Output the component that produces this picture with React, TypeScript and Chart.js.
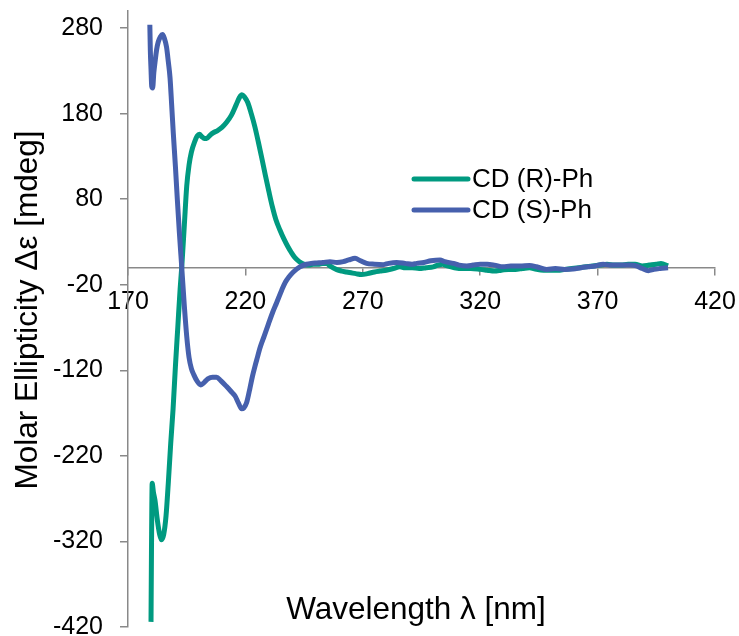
import React, { useEffect, useRef } from 'react';
import { Chart, registerables } from 'chart.js';

Chart.register(...registerables);

// ---- data ----
const seriesLabels = ['CD (R)-Ph', 'CD (S)-Ph'];
const seriesColors = ['#009A80', '#4660AD'];

const rWavelength = [
  179.8, 180.0, 180.3, 180.8, 181.5, 182.5, 183.5, 184.3, 185.2, 186.2, 187.2, 188.2, 189.2, 190.2,
  191.2, 192.2, 193.0, 194.0, 195.0, 196.0, 197.0, 198.5, 199.5, 200.4, 201.5, 202.5, 203.5, 205.0,
  206.5, 208.0, 210.0, 212.0, 214.0, 216.0, 217.5, 218.5, 219.5, 221.0, 222.5, 224.0, 225.5, 227.0,
  228.5, 230.0, 231.5, 233.0, 234.7, 236.5, 238.0, 239.5, 241.0, 243.0, 245.4, 247.0, 249.0, 251.0,
  253.0, 254.6, 256.0, 258.9, 261.0, 263.0, 265.0, 267.0, 269.5, 272.0, 275.0, 277.3, 280.0, 283.0,
  285.8, 288.0, 291.0, 294.0, 297.0, 300.0, 302.0, 304.0, 306.0, 309.0, 312.7, 316.0, 320.0, 323.0,
  326.0, 329.0, 332.0, 335.0, 338.0, 341.0, 344.0, 347.0, 350.0, 353.0, 356.0, 359.0, 362.0, 365.0,
  368.0, 371.0, 374.0, 377.0, 380.0, 383.0, 386.0, 389.0, 392.0, 395.0, 397.0, 400.0,
];
const rValues = [
  -414, -330, -252, -262, -272, -295, -312, -318, -312, -290, -250, -205, -165, -115,
  -70, -25, 5, 50, 95, 120, 135, 148, 154, 156, 153, 151, 151, 155,
  158, 160, 164, 170, 178, 190, 199, 202, 200, 193, 180, 165, 147, 128,
  108, 89, 71, 56, 44, 33, 25, 18, 12, 7, 3.5, 3, 4, 4,
  5, 5, 2, -2.3, -4, -5, -6, -7, -8, -7, -5, -4, -3, -1,
  1, 0, 0, -1, 0, 1, 3, 4, 2, 0, -1, -1, -2, -3,
  -4, -3, -2, -2, -1, 0, -2, -3, -3, -3, -2, -1, 0, 1,
  2, 3, 4, 3, 3, 4, 4, 2, 3, 4, 5, 2,
];

const sWavelength = [
  179.3, 179.5, 179.8, 180.1, 180.5, 181.0, 181.5, 182.2, 182.9, 183.8, 184.7, 185.5, 186.4, 187.2,
  187.9, 188.6, 189.3, 190.2, 191.0, 191.9, 192.9, 194.0, 195.0, 196.0, 197.0, 198.0, 199.5, 201.0,
  202.5, 204.0, 206.0, 207.7, 209.5, 212.0, 214.0, 215.6, 217.0, 218.4, 219.3, 220.5, 222.0, 223.0,
  224.1, 225.2, 226.2, 228.0, 229.8, 231.5, 233.3, 235.5, 237.0, 238.5, 240.4, 243.2, 246.0, 248.0,
  250.4, 253.0, 256.0, 259.0, 261.7, 264.0, 266.7, 269.0, 271.6, 275.0, 278.7, 281.0, 284.4, 288.0,
  291.0, 293.0, 296.0, 299.0, 302.9, 305.0, 308.6, 311.0, 314.3, 317.0, 320.0, 323.0, 326.0, 329.7,
  333.0, 337.0, 341.0, 344.0, 348.3, 352.0, 356.0, 359.6, 363.0, 366.0, 369.0, 372.4, 375.0, 378.0,
  381.0, 384.0, 386.5, 389.0, 391.6, 394.0, 396.6, 400.0,
];
const sValues = [
  284, 255, 232, 212, 210, 228, 240, 255, 264, 270, 272.5, 268, 258, 240,
  222, 190, 157, 118, 80, 40, 0, -45, -80, -105, -118, -125, -133, -137,
  -134, -130, -128, -128, -132, -139, -145, -150, -158, -165, -164, -158, -140, -127,
  -115, -104, -94, -80, -66, -53, -41, -26, -17, -11, -5, 1, 4, 5,
  5.5, 6, 7, 6, 7, 9, 11, 8, 5, 4, 3.5, 5, 6, 5,
  4, 5, 6, 8, 9, 7, 5, 3, 2, 3, 4, 4, 3, 1,
  2, 2, 2.5, 1, -2, -1, -2, -1.5, 0, 1, 2, 4, 3, 3,
  3, 3, 2, -1, -3.5, -2, -1, 0,
];

const xTickValues = [170, 220, 270, 320, 370, 420];
const yTickValues = [-420, -320, -220, -120, -20, 80, 180, 280];
const xTitle = 'Wavelength λ [nm]';
const yTitle = 'Molar Ellipticity Δε [mdeg]';

const FONT = '"Liberation Sans", Arial, sans-serif';
const AXIS_COLOR = '#898989';

const toPoints = (xs: number[], ys: number[]) => xs.map((x, i) => ({ x, y: ys[i] }));

const overlayPlugin = {
  id: 'overlay',
  afterDraw(chart: any) {
    const { ctx } = chart;
    ctx.save();
    ctx.fillStyle = '#000';
    // axis titles
    ctx.font = `31.5px ${FONT}`;
    ctx.textAlign = 'center';
    ctx.textBaseline = 'alphabetic';
    ctx.fillText(xTitle, 416, 619);
    ctx.save();
    ctx.translate(37, 310);
    ctx.rotate(-Math.PI / 2);
    ctx.fillText(yTitle, 0, 0);
    ctx.restore();
    // legend
    const datasets = chart.data.datasets;
    const lx = 414;
    const ly = 179;
    const rowH = 31;
    ctx.font = `26px ${FONT}`;
    ctx.textAlign = 'left';
    ctx.textBaseline = 'middle';
    datasets.forEach((ds: any, i: number) => {
      const y = ly + i * rowH;
      ctx.strokeStyle = ds.borderColor;
      ctx.lineWidth = 5;
      ctx.lineCap = 'round';
      ctx.beginPath();
      ctx.moveTo(lx, y);
      ctx.lineTo(lx + 54, y);
      ctx.stroke();
      ctx.fillStyle = '#000';
      ctx.fillText(ds.label, lx + 58, y + 1);
    });
    ctx.restore();
  },
};

export default function App() {
  const canvasRef = useRef<HTMLCanvasElement | null>(null);

  useEffect(() => {
    const canvas = canvasRef.current;
    if (!canvas) return;
    const chart = new Chart(canvas, {
      type: 'line',
      data: {
        datasets: [
          {
            label: seriesLabels[0],
            data: toPoints(rWavelength, rValues),
            borderColor: seriesColors[0],
            backgroundColor: seriesColors[0],
            borderWidth: 5,
            pointRadius: 0,
            cubicInterpolationMode: 'monotone',
            order: 1,
          },
          {
            label: seriesLabels[1],
            data: toPoints(sWavelength, sValues),
            borderColor: seriesColors[1],
            backgroundColor: seriesColors[1],
            borderWidth: 5,
            pointRadius: 0,
            cubicInterpolationMode: 'monotone',
            order: 0,
          },
        ],
      },
      options: {
        animation: false,
        responsive: false,
        layout: { padding: { left: 0, top: 11, right: 24, bottom: 9 } },
        plugins: {
          legend: { display: false },
          tooltip: { enabled: false },
        },
        scales: {
          x: {
            type: 'linear',
            position: { y: 0 },
            min: 170,
            max: 420,
            afterBuildTicks: (scale: any) => {
              scale.ticks = xTickValues.map((v) => ({ value: v }));
            },
            afterFit: (scale: any) => {
              scale.paddingLeft = 0;
              scale.paddingRight = 0;
            },
            grid: {
              display: true,
              drawOnChartArea: false,
              drawTicks: true,
              tickLength: 7,
              color: AXIS_COLOR,
              lineWidth: 1.5,
            },
            border: { display: true, color: AXIS_COLOR, width: 1.5 },
            ticks: {
              color: '#000',
              font: { family: FONT, size: 25 },
              padding: 12,
              maxRotation: 0,
              autoSkip: false,
              callback: (v: any) => String(v),
            },
          },
          y: {
            type: 'linear',
            position: 'left',
            min: -420,
            max: 300,
            afterBuildTicks: (scale: any) => {
              scale.ticks = yTickValues.map((v) => ({ value: v }));
            },
            afterFit: (scale: any) => {
              scale.width = 128;
              scale.paddingTop = 0;
              scale.paddingBottom = 0;
            },
            grid: {
              display: true,
              drawOnChartArea: false,
              drawTicks: true,
              tickLength: 8,
              color: AXIS_COLOR,
              lineWidth: 1.5,
            },
            border: { display: true, color: AXIS_COLOR, width: 1.5 },
            ticks: {
              color: '#000',
              font: { family: FONT, size: 25 },
              padding: 17,
              autoSkip: false,
              callback: (v: any) => String(v),
            },
          },
        },
      },
      plugins: [overlayPlugin],
    } as any);
    return () => chart.destroy();
  }, []);

  return (
    <div style={{ position: 'absolute', left: 0, top: 0, width: 739, height: 636, background: '#fff' }}>
      <canvas ref={canvasRef} width={739} height={636} style={{ display: 'block' }} />
    </div>
  );
}
